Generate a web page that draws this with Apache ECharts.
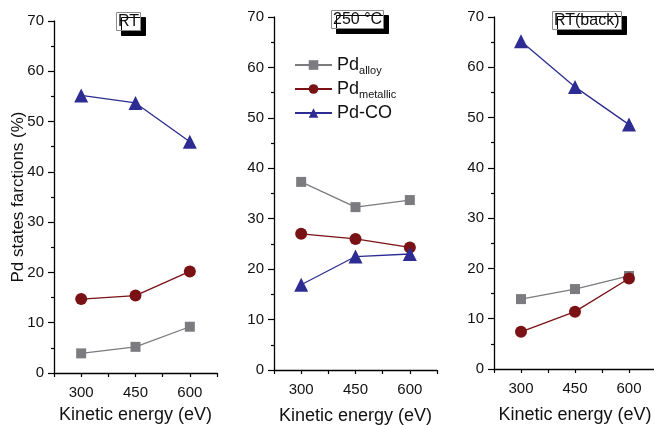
<!DOCTYPE html>
<html>
<head>
<meta charset="utf-8">
<script src="https://cdn.jsdelivr.net/npm/echarts@6/dist/echarts.min.js"></script>
<style>
  html, body { margin: 0; padding: 0; background: #fff; }
  #chart { width: 654px; height: 425px; }
</style>
</head>
<body>
<div id="chart"></div>
<script>
const energies = [300, 450, 600]
const panelTitles = ['RT', '250 °C', 'RT(back)']

const alloyRT = [3.9, 5.2, 9.2]
const metallicRT = [14.7, 15.4, 20.2]
const coRT = [55.2, 53.7, 46.0]

const alloy250 = [37.3, 32.3, 33.7]
const metallic250 = [27.0, 26.0, 24.3]
const co250 = [16.9, 22.5, 23.0]

const alloyBack = [13.9, 15.9, 18.5]
const metallicBack = [7.4, 11.4, 18.0]
const coBack = [65.2, 56.1, 48.6]

const GREY = '#7b7b80'
const RED = '#7a1114'
const BLUE = '#2c2c92'
const FONT = '"Liberation Sans", Arial, sans-serif'

const panels = [
  { alloy: alloyRT, metallic: metallicRT, co: coRT },
  { alloy: alloy250, metallic: metallic250, co: co250 },
  { alloy: alloyBack, metallic: metallicBack, co: coBack }
]

// axis boxes; outerBoundsMode off so labels may overflow
const grids = [
  { left: 54, top: 21, width: 163, height: 352, outerBoundsMode: 'none' },
  { left: 274, top: 17, width: 163, height: 353, outerBoundsMode: 'none' },
  { left: 494, top: 17, width: 162, height: 352, outerBoundsMode: 'none' }
]

const titlePos = [
  { left: 116, top: 12 },
  { left: 331, top: 10 },
  { left: 552, top: 11 }
]

// first panel sits a few px lower, so its x name needs a smaller gap
const xNameGaps = [33, 37, 37]

const pairs = (ys) => energies.map((x, i) => [x, ys[i]])

const chart = echarts.init(document.getElementById('chart'), null, { renderer: 'canvas' })

const xAxes = grids.map((_, i) => ({
  type: 'value',
  gridIndex: i,
  min: 225,
  max: 675,
  interval: 75,
  axisLine: { show: true, onZero: false, lineStyle: { color: '#000', width: 1.3 } },
  axisTick: { show: true, length: 4, lineStyle: { color: '#000', width: 1.2 } },
  axisLabel: {
    color: '#111', fontSize: 15, fontFamily: FONT, margin: 12,
    formatter: (v) => (v === 300 || v === 450 || v === 600) ? String(v) : ''
  },
  splitLine: { show: false },
  name: 'Kinetic energy (eV)',
  nameLocation: 'middle',
  nameGap: xNameGaps[i],
  nameMoveOverlap: false,
  nameTextStyle: { color: '#111', fontSize: 18, fontFamily: FONT }
}))

const yAxes = grids.map((_, i) => ({
  type: 'value',
  gridIndex: i,
  min: 0,
  max: 70,
  interval: 10,
  axisLine: { show: true, lineStyle: { color: '#000', width: 1.3 } },
  axisTick: { show: true, length: 6, lineStyle: { color: '#000', width: 1.2 } },
  minorTick: { show: true, splitNumber: 2, length: 3, lineStyle: { color: '#000', width: 1.2 } },
  axisLabel: { color: '#111', fontSize: 15, fontFamily: FONT, margin: 10 },
  splitLine: { show: false },
  name: i === 0 ? 'Pd states farctions (%)' : '',
  nameLocation: 'middle',
  nameGap: 27,
  nameMoveOverlap: false,
  nameTextStyle: { color: '#111', fontSize: 17, fontFamily: FONT }
}))

const series = []
panels.forEach((p, i) => {
  series.push({
    name: 'alloy', type: 'line', xAxisIndex: i, yAxisIndex: i,
    data: pairs(p.alloy), symbol: 'rect', symbolSize: 10,
    lineStyle: { color: GREY, width: 1.3 }, itemStyle: { color: GREY },
    animation: false
  })
  series.push({
    name: 'metallic', type: 'line', xAxisIndex: i, yAxisIndex: i,
    data: pairs(p.metallic), symbol: 'circle', symbolSize: 12,
    lineStyle: { color: RED, width: 1.3 }, itemStyle: { color: RED },
    animation: false
  })
  series.push({
    name: 'CO', type: 'line', xAxisIndex: i, yAxisIndex: i,
    data: pairs(p.co), symbol: 'triangle', symbolSize: 14,
    lineStyle: { color: BLUE, width: 1.3 }, itemStyle: { color: BLUE },
    animation: false
  })
})

const legendLabels = {
  alloy: '{m|Pd}{s|alloy}',
  metallic: '{m|Pd}{s|metallic}',
  CO: '{m|Pd-CO}'
}

chart.setOption({
  backgroundColor: '#fff',
  animation: false,
  title: panelTitles.map((t, i) => ({
    text: t,
    left: titlePos[i].left,
    top: titlePos[i].top,
    padding: [2, 2, 1, 2],
    backgroundColor: '#fff',
    borderColor: '#8a8a8a',
    borderWidth: 1,
    shadowColor: '#000',
    shadowBlur: 0,
    shadowOffsetX: 5,
    shadowOffsetY: 5,
    textStyle: { color: '#111', fontSize: 16, fontWeight: 'normal', fontFamily: FONT }
  })),
  legend: {
    left: 289,
    top: 51,
    orient: 'vertical',
    itemWidth: 37,
    itemHeight: 12,
    itemGap: 4,
    data: ['alloy', 'metallic', 'CO'],
    formatter: (name) => legendLabels[name],
    textStyle: {
      color: '#111',
      fontFamily: FONT,
      rich: {
        m: { fontSize: 18, fontFamily: FONT, color: '#111' },
        s: { fontSize: 11, fontFamily: FONT, color: '#111', padding: [11, 0, 0, 0] }
      }
    }
  },
  grid: grids,
  xAxis: xAxes,
  yAxis: yAxes,
  series
})
</script>
</body>
</html>
